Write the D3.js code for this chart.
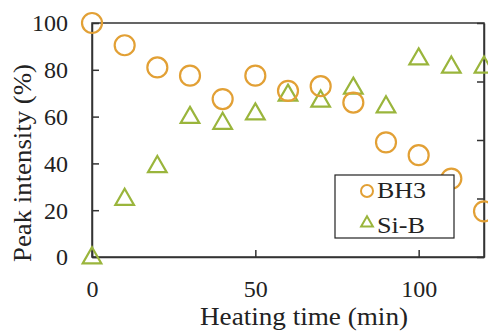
<!DOCTYPE html>
<html>
<head>
<meta charset="utf-8">
<script src="https://cdn.jsdelivr.net/npm/d3@7"></script>
<style>
  body { margin: 0; background: #fff; }
  text { font-family: "Liberation Serif", "Times New Roman", serif; fill: #222; }
</style>
</head>
<body>
<script>
// data
const times = [0, 10, 20, 30, 40, 50, 60, 70, 80, 90, 100, 110, 120];
const bh3 = [100, 90.5, 81, 77.5, 67.5, 77.5, 71, 73, 66, 49, 43.5, 33.5, 19.5];
const sib = [0, 25, 39, 60, 57.5, 61.5, 69.5, 67, 72.5, 64.5, 85, 81.5, 81.5];
const xTicks = [0, 50, 100];
const yTicks = [0, 20, 40, 60, 80, 100];

const width = 488, height = 331;
const margin = { top: 23, right: 4, bottom: 74, left: 92 };

const x = d3.scaleLinear().domain([0, 120]).range([margin.left, width - margin.right]);
const y = d3.scaleLinear().domain([0, 100]).range([height - margin.bottom, margin.top]);
const yRight = d3.scaleLinear().domain([0, 4]).range([height - margin.bottom, margin.top]);

const svg = d3.select("body").append("svg")
  .attr("width", width)
  .attr("height", height);

const orange = "#E2A035";
const green = "#9AB53C";

// frame
svg.append("rect")
  .attr("x", margin.left).attr("y", margin.top)
  .attr("width", width - margin.right - margin.left)
  .attr("height", height - margin.bottom - margin.top)
  .attr("fill", "none").attr("stroke", "#333").attr("stroke-width", 1.5);

// left axis, ticks inward
const gy = svg.append("g")
  .attr("transform", `translate(${margin.left},0)`)
  .call(d3.axisLeft(y).tickValues(yTicks).tickSizeInner(-7).tickSizeOuter(0).tickPadding(24));
gy.select(".domain").attr("stroke", "#333").attr("stroke-width", 1.5);
gy.selectAll(".tick line").attr("stroke", "#333").attr("stroke-width", 1.5);
gy.selectAll("text").style("font-size", "24px").attr("dy", "0.33em");

// right axis (unlabelled secondary scale)
const gr = svg.append("g")
  .attr("transform", `translate(${width - margin.right},0)`)
  .call(d3.axisRight(yRight).ticks(4).tickSizeInner(-7).tickSizeOuter(0).tickFormat(""));
gr.select(".domain").attr("stroke", "#333").attr("stroke-width", 1.5);
gr.selectAll(".tick line").attr("stroke", "#333").attr("stroke-width", 1.5);

// bottom axis, ticks inward
const gx = svg.append("g")
  .attr("transform", `translate(0,${height - margin.bottom})`)
  .call(d3.axisBottom(x).tickValues(xTicks).tickSizeInner(-7).tickSizeOuter(0).tickPadding(23));
gx.select(".domain").attr("stroke", "#333").attr("stroke-width", 1.5);
gx.selectAll(".tick line").attr("stroke", "#333").attr("stroke-width", 1.5);
gx.selectAll("text").style("font-size", "24px");

// axis titles
svg.append("text")
  .attr("x", 200)
  .attr("y", 325)
  .attr("textLength", 208)
  .attr("lengthAdjust", "spacingAndGlyphs")
  .style("font-size", "25px")
  .text("Heating time (min)");

svg.append("text")
  .attr("transform", "translate(31,262) rotate(-90)")
  .attr("textLength", 198)
  .attr("lengthAdjust", "spacingAndGlyphs")
  .style("font-size", "25px")
  .text("Peak intensity (%)");

const tri = d3.symbol().type(d3.symbolTriangle).size(150);

// Si-B triangles
svg.append("g").selectAll("path")
  .data(times.map((t, i) => [t, sib[i]]))
  .join("path")
  .attr("d", tri)
  .attr("transform", d => `translate(${x(d[0])},${y(d[1]) + 1})`)
  .attr("fill", "none").attr("stroke", green).attr("stroke-width", 2.2);

// BH3 circles
svg.append("g").selectAll("circle")
  .data(times.map((t, i) => [t, bh3[i]]))
  .join("circle")
  .attr("cx", d => x(d[0]))
  .attr("cy", d => y(d[1]))
  .attr("r", 10)
  .attr("fill", "none").attr("stroke", orange).attr("stroke-width", 2.2);

// legend
const lg = svg.append("g").attr("transform", "translate(335,175)");
lg.append("rect").attr("width", 119).attr("height", 63)
  .attr("fill", "#fff").attr("stroke", "#222").attr("stroke-width", 1.2);
lg.append("circle").attr("cx", 32).attr("cy", 16).attr("r", 6)
  .attr("fill", "none").attr("stroke", orange).attr("stroke-width", 2);
lg.append("path").attr("d", d3.symbol().type(d3.symbolTriangle).size(60))
  .attr("transform", "translate(32,48)")
  .attr("fill", "none").attr("stroke", green).attr("stroke-width", 2);
lg.append("text").attr("x", 42).attr("y", 23).attr("textLength", 49)
  .attr("lengthAdjust", "spacingAndGlyphs").style("font-size", "23px").text("BH3");
lg.append("text").attr("x", 42).attr("y", 58).attr("textLength", 48)
  .attr("lengthAdjust", "spacingAndGlyphs").style("font-size", "23px").text("Si-B");
</script>
</body>
</html>
